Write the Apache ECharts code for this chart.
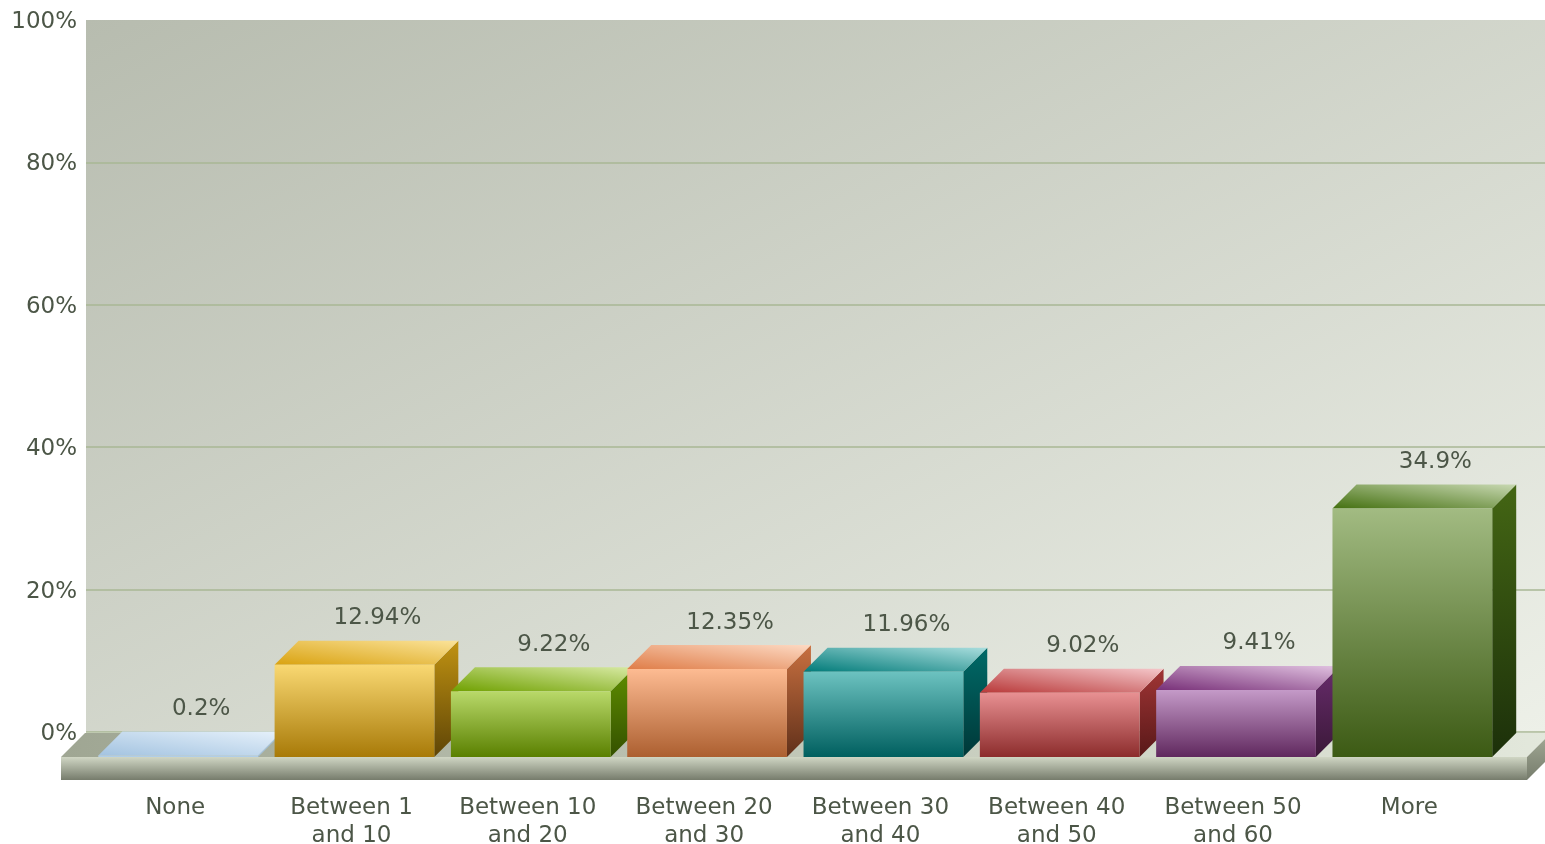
<!DOCTYPE html>
<html>
<head>
<meta charset="utf-8">
<title>Chart</title>
<script src="https://cdn.jsdelivr.net/npm/echarts@6/dist/echarts.min.js"></script>
<style>
    html, body { margin: 0; padding: 0; background: #fff; }
    #chart { width: 1545px; height: 844px; }
</style>
</head>
<body>
<div id="chart"></div>
<script>
var categories = ['None', 'Between 1\nand 10', 'Between 10\nand 20', 'Between 20\nand 30', 'Between 30\nand 40', 'Between 40\nand 50', 'Between 50\nand 60', 'More'];
var values = [0.2, 12.94, 9.22, 12.35, 11.96, 9.02, 9.41, 34.9];
var yTicks = [0, 20, 40, 60, 80, 100];

// colours per bar: [start, end] of each face's gradient
var frontColors = [['#c4dcf0', '#a6c5e2'], ['#f9d872', '#a87a08'], ['#b9d96a', '#5a8000'], ['#fdbb92', '#ac5f30'], ['#6cc2c0', '#005f5f'], ['#e89092', '#8c2c2c'], ['#c49ac8', '#60285e'], ['#a2bb82', '#3c5a14']];
var topColors = [['#a3c3e0', '#e6f1fb'], ['#d9a210', '#fbe39a'], ['#6fa000', '#d8eaa4'], ['#df7d48', '#fddac4'], ['#007a78', '#aadede'], ['#b83838', '#f5c8cb'], ['#783078', '#e2c4e2'], ['#447010', '#c9d9b3']];
var sideColors = [['#a3c3e0', '#a3c3e0'], ['#c09212', '#5f4506'], ['#5f8f00', '#345000'], ['#c87040', '#60301a'], ['#006a68', '#003838'], ['#a03535', '#581818'], ['#682c6c', '#3a1838'], ['#446614', '#1c300a']];

var depth = 24;
var textColor = '#4c5647';
var fontFamily = '"DejaVu Sans", Verdana, sans-serif';
var fontSize = 23;

function gradient(x, y, x2, y2, from, to) {
    return new echarts.graphic.LinearGradient(x, y, x2, y2, [
        { offset: 0, color: from },
        { offset: 1, color: to }
    ]);
}

// floor and its front slab, under the bars
function renderFloor(params, api) {
    var cs = params.coordSys;
    var left = cs.x - 26;
    var right = cs.x + cs.width + 29.5;
    var base = cs.y + cs.height;
    var thick = 23;
    return {
        type: 'group',
        children: [
            {
                type: 'polygon',
                shape: { points: [[left, base], [right, base], [right + depth, base - depth], [left + depth, base - depth]] },
                style: { fill: gradient(0, 0, 1, 0, '#9fa693', '#e3e8dc') }
            },
            {
                type: 'rect',
                shape: { x: left, y: base, width: right - left, height: thick },
                style: { fill: gradient(0, 0, 0, 1, '#d0d6c4', '#767c6c') }
            },
            {
                type: 'polygon',
                shape: { points: [[right, base], [right + depth, base - depth], [right + depth, base - depth + thick], [right, base + thick]] },
                style: { fill: gradient(0, 0, 0, 1, '#a4ab97', '#767c6c') }
            }
        ]
    };
}

function renderBar(params, api) {
    var i = api.value(0);
    var top = api.coord([i, api.value(1)]);
    var bottom = api.coord([i, 0]);
    var width = api.size([1, 0])[0] * 0.906;
    var x0 = top[0] + 3 - width / 2;
    var x1 = x0 + width;
    return {
        type: 'group',
        children: [
            {
                type: 'polygon',
                shape: { points: [[x1, top[1]], [x1 + depth, top[1] - depth], [x1 + depth, bottom[1] - depth], [x1, bottom[1]]] },
                style: { fill: gradient(0, 0, 0, 1, sideColors[i][0], sideColors[i][1]) }
            },
            {
                type: 'polygon',
                shape: { points: [[x0, top[1]], [x1, top[1]], [x1 + depth, top[1] - depth], [x0 + depth, top[1] - depth]] },
                style: { fill: gradient(0, 1, 0.033, -0.967, topColors[i][0], topColors[i][1]) }
            },
            {
                type: 'rect',
                shape: { x: x0, y: top[1], width: width, height: bottom[1] - top[1] },
                style: { fill: gradient(0, 0, 0, 1, frontColors[i][0], frontColors[i][1]) }
            },
            {
                type: 'text',
                style: {
                    x: top[0] + 3 + 23,
                    y: top[1] - 46.5,
                    text: api.value(1) + '%',
                    fill: textColor,
                    font: fontSize + 'px ' + fontFamily,
                    align: 'center',
                    verticalAlign: 'middle'
                }
            }
        ]
    };
}

var myChart = echarts.init(document.getElementById('chart'));
var option = {
    animation: false,
    backgroundColor: '#fff',
    grid: [
        {
            // back wall
            left: 86, top: 20, width: 1459, height: 712,
            show: true,
            borderWidth: 0,
            outerBoundsMode: 'none',
            backgroundColor: gradient(0, 0, 0.385, 1.615, '#b7bcaf', '#edf0e8')
        },
        {
            // front plane, where the bars stand
            left: 87, top: 45, width: 1410.5, height: 712,
            outerBoundsMode: 'none'
        }
    ],
    xAxis: [
        { type: 'category', gridIndex: 0, data: categories, show: false },
        {
            type: 'category',
            gridIndex: 1,
            data: categories,
            axisLine: { show: false },
            axisTick: { show: false },
            axisLabel: {
                interval: 0,
                margin: 37,
                color: textColor,
                fontFamily: fontFamily,
                fontSize: fontSize,
                lineHeight: 28
            }
        }
    ],
    yAxis: [
        {
            type: 'value',
            gridIndex: 0,
            min: yTicks[0],
            max: yTicks[yTicks.length - 1],
            interval: yTicks[1] - yTicks[0],
            axisLine: { show: false },
            axisTick: { show: false },
            axisLabel: {
                margin: 9,
                color: textColor,
                formatter: '{v|{value}%}',
                rich: {
                    v: {
                        color: textColor,
                        fontFamily: fontFamily,
                        fontSize: fontSize,
                        padding: [4, 0, 0, 0]
                    }
                }
            },
            splitLine: { show: true, showMaxLine: false, lineStyle: { color: '#a9b795', width: 1.5 } }
        },
        { type: 'value', gridIndex: 1, min: 0, max: 100, show: false, splitLine: { show: false } }
    ],
    series: [
        {
            type: 'custom',
            xAxisIndex: 1,
            yAxisIndex: 1,
            silent: true,
            clip: false,
            renderItem: renderFloor,
            data: [[0, 0]]
        },
        {
            type: 'custom',
            xAxisIndex: 1,
            yAxisIndex: 1,
            clip: false,
            renderItem: renderBar,
            encode: { x: 0, y: 1 },
            data: values.map(function (v, i) { return [i, v]; })
        }
    ]
};
myChart.setOption(option);
</script>
</body>
</html>
